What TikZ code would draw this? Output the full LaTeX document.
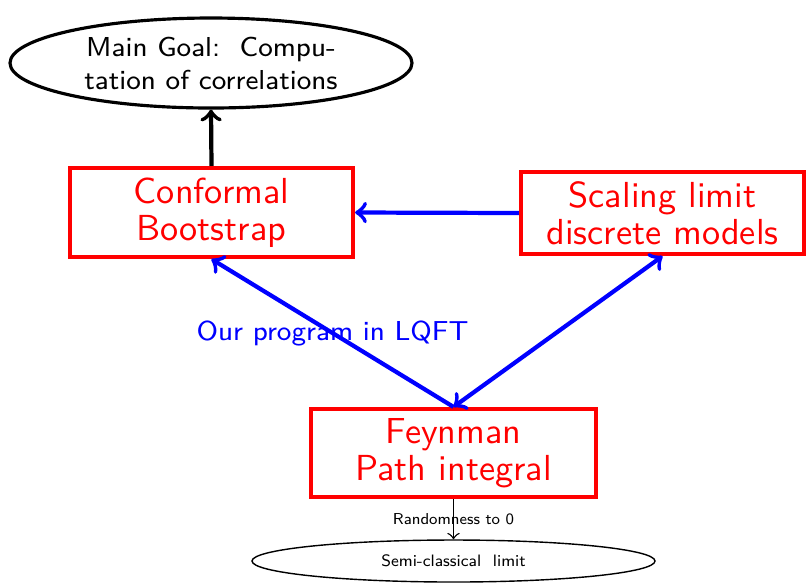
\documentclass[tikz,border=0pt]{standalone}
\usepackage{amsmath}
\usetikzlibrary{positioning,shapes.geometric,arrows}

\begin{document}
\begin{tikzpicture}[font=\sffamily,
        redbox/.style={draw=red,line width=1.2pt,text=red,align=center,minimum width=2.83cm,inner sep=0pt,font=\sffamily\fontsize{10.3}{10.6}\selectfont},
        bluearrow/.style={blue,line width=1.2pt}]
        \useasboundingbox (0,0) rectangle (8.06,-5.82);
        % goal
        \node[ellipse,draw,line width=0.9pt,minimum width=4.02cm,minimum height=0.9cm,inner sep=0pt,align=center,font=\sffamily\fontsize{7.8}{9.4}\selectfont] (goal) at (2.11,-0.63) {Main Goal:\ \ Compu-\\tation of correlations};
        % boxes
        \node[redbox,minimum height=0.89cm] (conf) at (2.115,-2.125) {Conformal\\Bootstrap};
        \node[redbox,minimum height=0.82cm] (scal) at (6.625,-2.13) {Scaling limit\\discrete models};
        \node[redbox,minimum width=2.85cm,minimum height=0.88cm] (feyn) at (4.535,-4.53) {Feynman\\Path integral};
        % semi-classical
        \node[ellipse,draw,thin,minimum width=4.03cm,minimum height=0.42cm,inner sep=0pt,font=\sffamily\fontsize{4.7}{5.5}\selectfont] (semi) at (4.535,-5.61) {Semi-classical\ \ limit};
        % arrows
        \draw[->,line width=1.2pt] (conf.north) -- (goal.south);
        \draw[->,bluearrow] (scal.west) -- (conf.east);
        \draw[->,bluearrow] (feyn.north) -- (conf.south) node[midway,text=blue,font=\sffamily\fontsize{7.8}{9}\selectfont] {Our program in LQFT};
        \draw[<->,bluearrow] (feyn.north) -- (scal.south);
        \draw[->,thin] (feyn.south) -- (semi.north) node[midway,font=\sffamily\fontsize{4.5}{5.5}\selectfont] {Randomness to 0};
\end{tikzpicture}
\end{document}
